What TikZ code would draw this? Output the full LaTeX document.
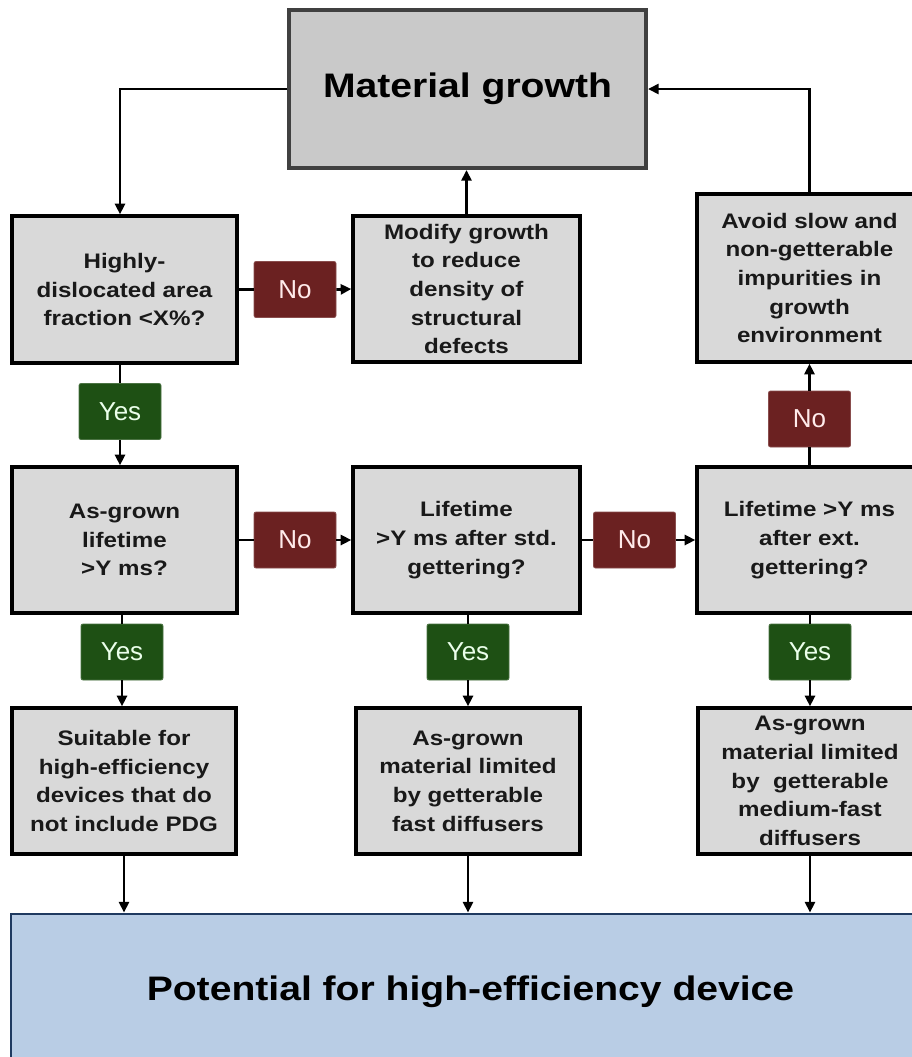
\documentclass[tikz,border=0pt]{standalone}
\usepackage{fontspec}
\setmainfont{Liberation Sans}[FakeStretch=1.15]
\newfontfamily\lblfont{Liberation Sans}
\usetikzlibrary{arrows.meta}
\definecolor{boxgray}{HTML}{D9D9D9}
\definecolor{topgray}{HTML}{C9C9C9}
\definecolor{nored}{HTML}{6B2121}
\definecolor{yesgreen}{HTML}{1E5014}
\definecolor{botblue}{HTML}{B9CDE5}
\definecolor{botedge}{HTML}{1F3A60}
\begin{document}
\begin{tikzpicture}[x=0.75pt,y=-0.75pt,
  box/.style={draw=black, line width=2.5pt, fill=boxgray, inner sep=0pt, align=center,
    font=\bfseries\fontsize{15.75}{21.5}\selectfont, text=black!90},
  lbl/.style={rounded corners=1.5pt, inner sep=0pt, minimum width=61.5pt, minimum height=42pt,
    line width=0.6pt, font=\lblfont\fontsize{19.5}{22}\selectfont},
  nolbl/.style={lbl, fill=nored, draw=nored!80!white, text=white!92!red},
  yeslbl/.style={lbl, fill=yesgreen, draw=yesgreen!80!white, text=green!8!white},
  conn/.style={line width=2.1pt, draw=black},
  arr/.style={conn, -{Triangle[length=8pt,width=7.5pt]}}
]
\useasboundingbox (0,0) rectangle (912,1057);
\clip (0,0) rectangle (912,1057);

% main boxes
\node[box, fill=topgray, draw=black!75, line width=3pt, minimum width=357*0.75pt, minimum height=158*0.75pt,
  font=\bfseries\fontsize{25.5}{30}\selectfont, text=black] (top) at (467.5,89) {Material growth};

\node[box, minimum width=225*0.75pt, minimum height=147*0.75pt] (B1) at (124.5,289.5)
  {Highly-\\dislocated area\\fraction <X\%?};
\node[box, minimum width=227*0.75pt, minimum height=146*0.75pt] (B2) at (466.5,289)
  {Modify growth\\to reduce\\density of\\structural\\defects};
\node[box, minimum width=225*0.75pt, minimum height=168*0.75pt] (B3) at (809.5,278)
  {Avoid slow and\\non-getterable\\impurities in\\growth\\environment};

\node[box, minimum width=225*0.75pt, minimum height=146*0.75pt] (C1) at (124.5,540)
  {As-grown\\lifetime\\>Y ms?};
\node[box, minimum width=227*0.75pt, minimum height=146*0.75pt] (C2) at (466.5,540)
  {Lifetime\\>Y ms after std.\\gettering?};
\node[box, minimum width=225*0.75pt, minimum height=146*0.75pt] (C3) at (809.5,540)
  {Lifetime >Y ms\\after ext.\\gettering?};

\node[box, minimum width=224*0.75pt, minimum height=146*0.75pt] (D1) at (124,781)
  {Suitable for\\high-efficiency\\devices that do\\not include PDG};
\node[box, minimum width=224*0.75pt, minimum height=146*0.75pt] (D2) at (468,781)
  {As-grown\\material limited\\by getterable\\fast diffusers};
\node[box, minimum width=224*0.75pt, minimum height=146*0.75pt] (D3) at (810,781)
  {As-grown\\material limited\\by~~getterable\\medium-fast\\diffusers};

\node[draw=botedge, fill=botblue, line width=2.2pt, inner sep=0pt,
  minimum width=919*0.75pt, minimum height=156*0.75pt,
  font=\bfseries\fontsize{25.5}{30}\selectfont, text=black] (pot) at (470.5,992)
  {Potential for high-efficiency device};

% labels
\node[nolbl] (No1) at (295,289.5) {No};
\node[yeslbl] (Yes1) at (120,411.5) {Yes};
\node[nolbl] (No2) at (295,540) {No};
\node[nolbl] (No3) at (634.5,540) {No};
\node[nolbl] (NoV) at (809.5,419) {No};
\node[yeslbl] (Yes2) at (122,652) {Yes};
\node[yeslbl] (YesM) at (468,652) {Yes};
\node[yeslbl] (Yes3) at (810,652) {Yes};

% connectors
\draw[arr] (top.west) -| (Yes1 |- B1.north);
\draw[arr] (B2.north) -- (B2.north |- top.south);
\draw[arr] (B3.north) |- (top.east);

\draw[conn] (B1.east) -- (No1.west);
\draw[arr] (No1.east) -- (B2.west);
\draw[conn] (B1.south -| Yes1) -- (Yes1.north);
\draw[arr] (Yes1.south) -- (Yes1.south |- C1.north);

\draw[conn] (C1.east) -- (No2.west);
\draw[arr] (No2.east) -- (C2.west);
\draw[conn] (C2.east) -- (No3.west);
\draw[arr] (No3.east) -- (C3.west);
\draw[conn] (C3.north) -- (NoV.south);
\draw[arr] (NoV.north) -- (B3.south);

\draw[conn] (C1.south -| Yes2) -- (Yes2.north);
\draw[arr] (Yes2.south) -- (Yes2.south |- D1.north);
\draw[conn] (C2.south -| YesM) -- (YesM.north);
\draw[arr] (YesM.south) -- (YesM.south |- D2.north);
\draw[conn] (C3.south -| Yes3) -- (Yes3.north);
\draw[arr] (Yes3.south) -- (Yes3.south |- D3.north);

\draw[arr] (D1.south) -- (D1.south |- pot.north);
\draw[arr] (D2.south) -- (D2.south |- pot.north);
\draw[arr] (D3.south) -- (D3.south |- pot.north);
\end{tikzpicture}
\end{document}
